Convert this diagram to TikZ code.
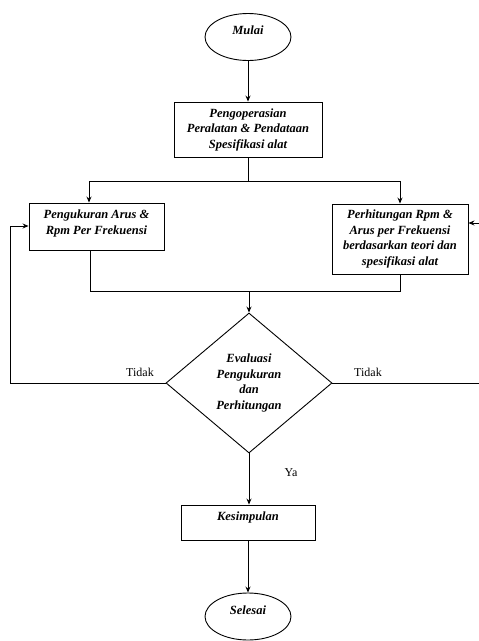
\documentclass[tikz,border=0pt]{standalone}
\usepackage{fontspec}
\setmainfont{Liberation Serif}
\usetikzlibrary{shapes.geometric,arrows.meta}
\newcommand{\liftup}[2]{\raisebox{#1}[\height][\depth]{#2}}
\begin{document}
\begin{tikzpicture}[x=1pt,y=-1pt,
  base/.style={draw,line width=0.9pt,inner sep=0pt,align=center,
    font=\fontsize{12.5}{15.5}\selectfont\bfseries\itshape},
  oval/.style={base,ellipse,minimum width=86pt,minimum height=47pt},
  proc/.style={base,rectangle},
  deci/.style={base,diamond,minimum width=166pt,minimum height=140pt},
  conn/.style={line width=0.9pt},
  arr/.style={conn,-{Stealth[length=6pt,width=5pt]}},
  lbl/.style={font=\fontsize{12}{14}\selectfont,inner sep=0pt}]
\useasboundingbox (0,0) rectangle (479,641);
\node[oval] (mulai) at (248,37) {\liftup{7pt}{Mulai}};
\node[proc,minimum width=148pt,minimum height=55pt] (op) at (248,129.5)
  {Pengoperasian\\Peralatan \& Pendataan\\Spesifikasi alat};
\node[proc,minimum width=135pt,minimum height=47pt] (ukur) at (96.5,226.5)
  {\liftup{3pt}{Pengukuran Arus \&}\\\liftup{3pt}{Rpm Per Frekuensi}};
\node[proc,minimum width=136pt,minimum height=70pt] (hitung) at (400,239)
  {Perhitungan Rpm \&\\Arus per Frekuensi\\berdasarkan teori dan\\spesifikasi alat};
\node[deci] (eval) at (249,383) {Evaluasi\\Pengukuran\\dan\\Perhitungan};
\node[proc,minimum width=134pt,minimum height=35pt] (kes) at (248,522.5) {\liftup{5pt}{Kesimpulan}};
\node[oval] (sel) at (248,616.5) {\liftup{6pt}{Selesai}};
\coordinate (split) at (248,181);
\coordinate (jl) at (89,181);
\coordinate (jr) at (400,181);
\coordinate (ml) at (90,291);
\coordinate (mr) at (400,291);
\coordinate (mc) at (249,291);
\coordinate (lc) at (10,383);
\coordinate (lt) at (10,226);
\coordinate (rc) at (490,383);
\coordinate (rt) at (490,223);
\draw[arr] (mulai) -- (op);
\draw[conn] (op.south) -- (split);
\draw[conn] (jl) -- (jr);
\draw[arr] (jl) -- (jl |- ukur.north);
\draw[arr] (jr) -- (jr |- hitung.north);
\draw[conn] (ml |- ukur.south) -- (ml) -- (mr) -- (mr |- hitung.south);
\draw[arr] (mc) -- (eval.north);
\draw[arr] (eval.west) -- (lc) -- (lt) -- (lt -| ukur.west);
\draw[arr] (eval.east) -- (rc) -- (rt) -- (rt -| hitung.east);
\draw[arr] (eval.south) -- (eval.south |- kes.north);
\draw[arr] (kes.south) -- (sel.north);
\node[lbl] (t1) at (140,372) {Tidak};
\node[lbl] (t2) at (368,372) {Tidak};
\node[lbl] (ya) at (291,473) {Ya};
\end{tikzpicture}
\end{document}
